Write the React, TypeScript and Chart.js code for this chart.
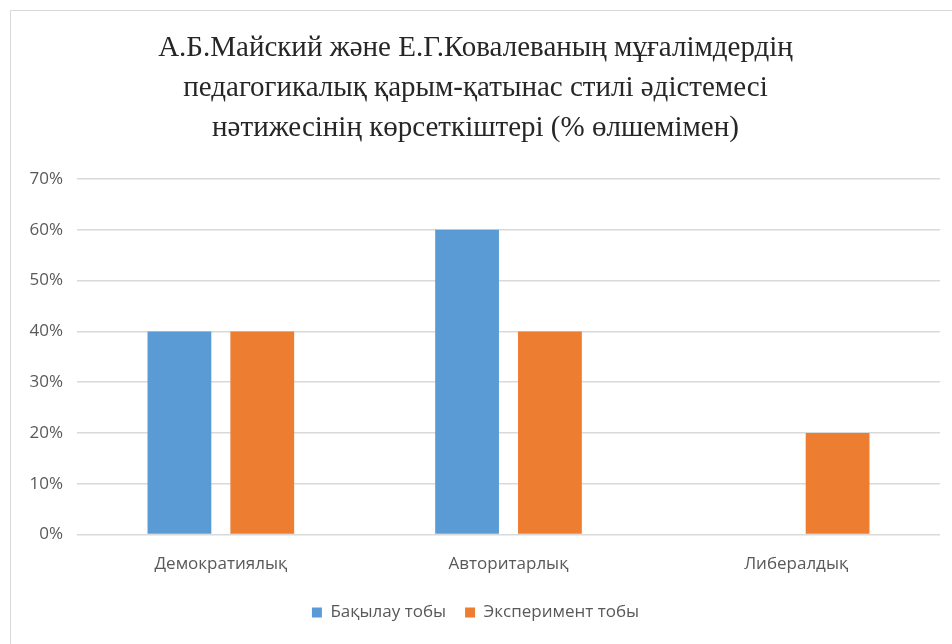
import React, { useEffect, useRef } from "react";
import { Chart, registerables } from "chart.js";

Chart.register(...registerables);

const categories = ["Демократиялық", "Авторитарлық", "Либералдық"];
const controlGroup = [40, 60, 0];
const experimentGroup = [40, 40, 20];
const seriesNames = ["Бақылау тобы", "Эксперимент тобы"];
const titleLines = [
  "А.Б.Майский жәнe Е.Г.Ковалеваның мұғалімдердің",
  "педагогикалық қарым-қатынас стилі әдістемесі",
  "нәтижесінің көрсеткіштері (% өлшемімен)",
];

export default function App() {
  const ref = useRef<HTMLCanvasElement | null>(null);
  useEffect(() => {
    if (!ref.current) return;
    const chart = new Chart(ref.current, {
      type: "bar",
      data: {
        labels: categories,
        datasets: [
          {
            label: seriesNames[0],
            data: controlGroup,
            backgroundColor: "#5B9BD5",
            categoryPercentage: 0.576,
            barPercentage: 0.77,
          },
          {
            label: seriesNames[1],
            data: experimentGroup,
            backgroundColor: "#ED7D31",
            categoryPercentage: 0.576,
            barPercentage: 0.77,
          },
        ],
      },
      options: {
        animation: false,
        responsive: false,
        maintainAspectRatio: false,
        layout: { padding: { left: 0, right: 12, top: 0, bottom: 13 } },
        plugins: {
          title: {
            display: true,
            text: titleLines,
            color: "#262626",
            font: { family: "Liberation Serif", size: 29, lineHeight: 1.38, weight: "normal" },
            padding: { top: 17, bottom: 31 },
          },
          legend: {
            position: "bottom",
            labels: {
              color: "#595959",
              font: { family: "Open Sans", size: 17 },
              boxWidth: 10,
              boxHeight: 10,
              padding: 19,
            },
          },
          tooltip: { enabled: false },
        },
        scales: {
          x: {
            grid: { display: false },
            border: { display: false },
            ticks: {
              color: "#595959",
              font: { family: "Open Sans", size: 17 },
              padding: 11,
            },
          },
          y: {
            min: 0,
            max: 70,
            afterFit: (scale: any) => {
              scale.width = 66;
            },
            grid: { color: "#d9d9d9", lineWidth: 1.5, drawTicks: false },
            border: { display: false },
            ticks: {
              stepSize: 10,
              color: "#595959",
              font: { family: "Open Sans", size: 17 },
              padding: 14,
              callback: (v: any) => v + "%",
            },
          },
        },
      },
    });
    return () => chart.destroy();
  }, []);
  return (
    <div
      style={{
        position: "absolute",
        left: 10,
        top: 10,
        width: 942,
        height: 634,
        borderTop: "1px solid #d9d9d9",
        borderLeft: "1px solid #d9d9d9",
        background: "#fff",
      }}
    >
      <canvas ref={ref} width={941} height={633} style={{ display: "block" }} />
    </div>
  );
}
